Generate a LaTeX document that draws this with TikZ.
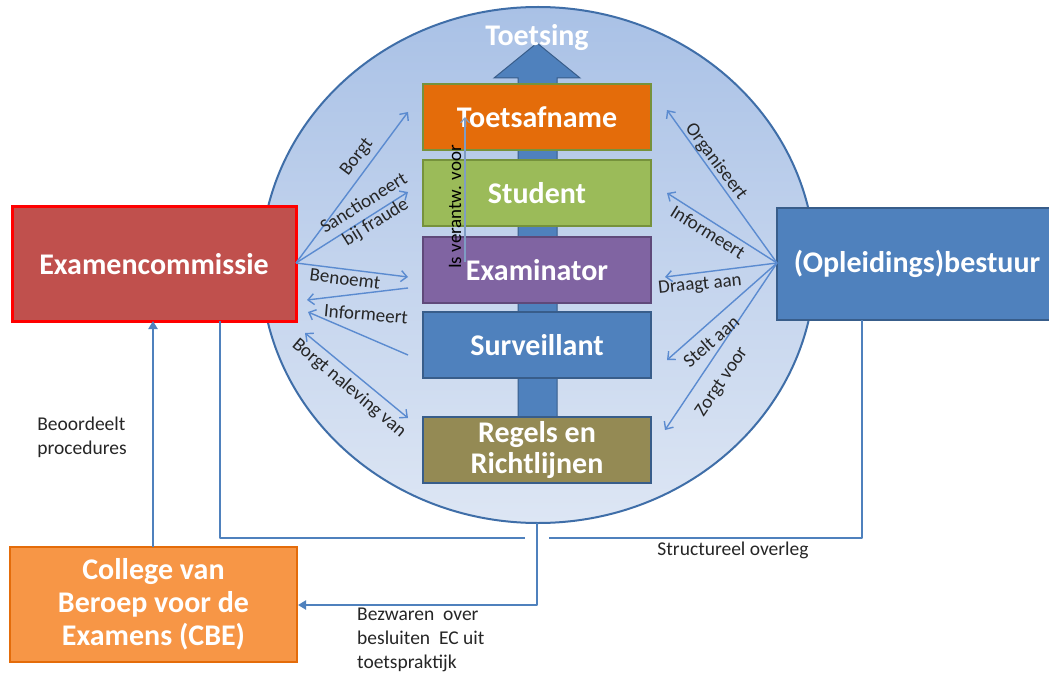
\documentclass[tikz,border=0pt]{standalone}
\usepackage{fontspec}
\setmainfont{Carlito}
\usetikzlibrary{arrows.meta}
\definecolor{cblue}{HTML}{4F81BD}
\definecolor{cbluedk}{HTML}{385D8A}
\definecolor{lblue}{HTML}{5B8BD0}
\definecolor{circtop}{HTML}{A9C1E6}
\definecolor{circbot}{HTML}{DDE6F4}
\definecolor{circline}{HTML}{3F6EA8}
\definecolor{corange}{HTML}{E46C0A}
\definecolor{cgreen}{HTML}{9BBB59}
\definecolor{cgreendk}{HTML}{76923C}
\definecolor{cpurple}{HTML}{8064A2}
\definecolor{cpurpledk}{HTML}{5F497A}
\definecolor{colive}{HTML}{948A54}
\definecolor{cred}{HTML}{C0504D}
\definecolor{corange2}{HTML}{F79646}
\definecolor{corange2dk}{HTML}{E46C0A}
\definecolor{ctext}{HTML}{262626}
\definecolor{cgreyblue}{HTML}{7F9CC4}
\begin{document}
\begin{tikzpicture}[x=1pt,y=-1pt,
  boxst/.style={draw, line width=2pt, minimum width=228, minimum height=66,
    text=white, font=\bfseries\fontsize{30}{31}\selectfont, inner sep=0pt, align=center},
  bigbox/.style={draw, line width=2pt, text=white,
    font=\bfseries\fontsize{30}{33}\selectfont, inner sep=0pt, align=center},
  lbl/.style={text=ctext, font=\fontsize{19}{22}\selectfont, inner sep=1pt, align=center},
  blbl/.style={text=ctext, font=\fontsize{19.5}{24}\selectfont, inner sep=0pt, align=left},
  sarr/.style={draw=lblue, line width=1.4pt, -{Straight Barb[length=6pt,width=11pt]}},
  darr/.style={draw=lblue, line width=1.4pt, {Straight Barb[length=6pt,width=11pt]}-{Straight Barb[length=6pt,width=11pt]}},
  conn/.style={draw=cblue, line width=2.4pt},
  carr/.style={draw=cblue, line width=2.4pt, -{Triangle[length=8pt,width=9pt]}}
]
\useasboundingbox (0,0) rectangle (1049,679);
\clip (0,0) rectangle (1049,679);
\fill[white] (0,0) rectangle (1049,679);

% circle
\path[top color=circtop, bottom color=circbot, draw=circline, line width=2pt]
  (538,265) ellipse [x radius=277, y radius=258];

% big arrow
\path[fill=cblue, draw=cbluedk, line width=1pt]
  (518,470) -- (518,78) -- (494,78) -- (537,43) -- (580,78) -- (557,78) -- (557,470) -- cycle;
\node[text=white, font=\bfseries\fontsize{30}{32}\selectfont] (toets) at (537,38) {Toetsing};

% central boxes
\node[boxst, fill=corange, draw=cgreendk] (ta) at (537,117) {Toetsafname};
\node[boxst, fill=cgreen, draw=cgreendk] (st) at (537,193) {Student};
\node[boxst, fill=cpurple, draw=cpurpledk] (exm) at (537,270) {Examinator};
\node[boxst, fill=cblue, draw=cbluedk] (su) at (537,345) {Surveillant};
\node[boxst, fill=colive, draw=cbluedk] (rr) at (537,450) {Regels en\\Richtlijnen};

% side boxes
\node[bigbox, fill=cred, draw=red, line width=3pt, minimum width=284, minimum height=114] (ec) at (154,264) {Examencommissie};
\node[bigbox, fill=cblue, draw=cbluedk, minimum width=280, minimum height=112] (ob) at (917,264) {(Opleidings)bestuur};
\node[bigbox, fill=corange2, draw=corange2dk, minimum width=287, minimum height=115,
  font=\bfseries\fontsize{30}{33}\selectfont] (cbe) at (153.5,604.5) {College van\\Beroep voor de\\Examens (CBE)};

% arrow end points
\coordinate (exo) at (296,263);
\coordinate (opo) at (777,263);
\coordinate (l1) at (408,112);
\coordinate (l2) at (408,192);
\coordinate (l3) at (408,277);
\coordinate (l4s) at (408,288);
\coordinate (l4e) at (307,300);
\coordinate (l5s) at (408,355);
\coordinate (l5e) at (308,312);
\coordinate (l6s) at (305,333);
\coordinate (l6e) at (408,418);
\coordinate (r1) at (667,110);
\coordinate (r2) at (667,193);
\coordinate (r3) at (665,277);
\coordinate (r4) at (667,360);
\coordinate (r5) at (665,430);

% left arrows
\draw[sarr] (exo) -- (l1);
\draw[sarr] (exo) -- (l2);
\draw[sarr] (exo) -- (l3);
\draw[sarr] (l4s) -- (l4e);
\draw[sarr] (l5s) -- (l5e);
\draw[darr] (l6s) -- (l6e);
\node[lbl, rotate=53] (lb1) at (357,157) {Borgt};
\node[lbl, rotate=32] (lb2) at (370,213) {Sanctioneert\\bij fraude};
\node[lbl, rotate=-7] (lb3) at (345,279) {Benoemt};
\node[lbl, rotate=-5] (lb4) at (366,314) {Informeert};
\node[lbl, rotate=-40] (lb6) at (349,388) {Borgt naleving van};

% right arrows
\draw[sarr] (opo) -- (r1);
\draw[sarr] (opo) -- (r2);
\draw[sarr] (opo) -- (r3);
\draw[sarr] (opo) -- (r4);
\draw[sarr] (opo) -- (r5);
\node[lbl, rotate=-53] (rb1) at (716,162) {Organiseert};
\node[lbl, rotate=-32] (rb2) at (708,232) {Informeert};
\node[lbl, rotate=6] (rb3) at (700,285) {Draagt aan};
\node[lbl, rotate=41] (rb4) at (711,341) {Stelt aan};
\node[lbl, rotate=56] (rb5) at (722,382) {Zorgt voor};

% is verantwoordelijk voor
\coordinate (iv1) at (465,262);
\coordinate (iv2) at (465,117);
\draw[draw=cgreyblue, line width=1.2pt, -{Straight Barb[length=5pt,width=9pt]}] (iv1) -- (iv2);
\node[lbl, rotate=90, text=black] (ivl) at (455,207) {Is verantw. voor};

% bottom connectors
\coordinate (c1) at (153,547);
\coordinate (c2) at (153,321);
\draw[carr] (c1) -- (c2);
\node[blbl] (beo) at (82,437) {Beoordeelt\\procedures};

\coordinate (s1) at (220,321);
\coordinate (s2) at (220,538);
\coordinate (s3) at (525,538);
\coordinate (s4) at (549,538);
\coordinate (s5) at (862,538);
\coordinate (s6) at (862,320);
\draw[conn, line join=round] (s1) -- (s2) -- (s3);
\draw[conn, line join=round] (s4) -- (s5) -- (s6);
\node[blbl] (so) at (733,550) {Structureel overleg};

\coordinate (b1) at (537,523);
\coordinate (b2) at (537,605);
\coordinate (b3) at (298,605);
\draw[carr, line join=round] (b1) -- (b2) -- (b3);
\node[blbl, anchor=north west] (bez) at (357,608) {Bezwaren~~over\\besluiten~~EC uit\\toetspraktijk};
\end{tikzpicture}
\end{document}
